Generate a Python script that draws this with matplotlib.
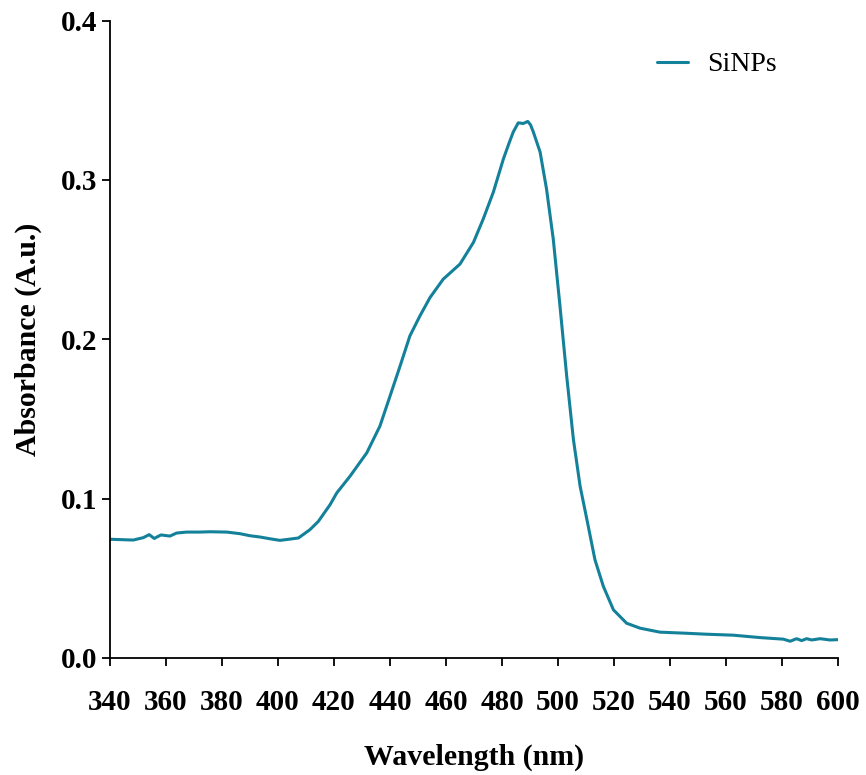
import matplotlib
matplotlib.use("Agg")
import matplotlib.pyplot as plt

# UV-Vis absorption spectrum of silicon nanoparticles
wavelength_nm = [340, 348.3, 351.9, 354, 355.8, 358.2, 361.4, 363.8, 367.4, 372, 375.7,
                 381.7, 386.4, 390, 393.6, 397.1, 400.7, 404.3, 407.3, 411.4, 414.4,
                 418.6, 421, 425.7, 431.7, 436.4, 440, 443.6, 447.1, 450.7, 454.3,
                 459, 465, 469.8, 473.3, 476.9, 480.5, 482.5, 484, 485.8, 487.6, 489.2,
                 490.2, 491.2, 493.6, 495.9, 498.3, 500.7, 503.1, 505.5, 507.9, 510.2, 513.2,
                 516.2, 519.8, 524.5, 529.3, 536.4, 546, 553.1, 562.6, 572.1, 580.5,
                 582.9, 585.2, 587, 588.8, 590.6, 593.6, 597.1, 600]
absorbance = [0.0745, 0.0740, 0.0755, 0.0774, 0.0750, 0.0772, 0.0765, 0.0784, 0.0790, 0.0790, 0.0792,
              0.0790, 0.0780, 0.0767, 0.0759, 0.0748, 0.0738, 0.0746, 0.0753, 0.0805, 0.0857,
              0.0962, 0.1036, 0.1140, 0.1287, 0.1455, 0.1643, 0.1832, 0.2021, 0.2147, 0.2262,
              0.2377, 0.2472, 0.2608, 0.2755, 0.2923, 0.3132, 0.3230, 0.3300, 0.3358, 0.3354, 0.3367,
              0.3345, 0.3300, 0.3175, 0.2943, 0.2629, 0.2209, 0.1769, 0.1371, 0.1077, 0.0879, 0.0616,
              0.0449, 0.0302, 0.0218, 0.0187, 0.0162, 0.0155, 0.0149, 0.0143, 0.0128, 0.0118,
              0.0105, 0.0121, 0.0109, 0.0121, 0.0113, 0.0121, 0.0113, 0.0115]

x_ticks = list(range(340, 601, 20))
y_ticks = [0.0, 0.1, 0.2, 0.3, 0.4]

line_color = "#14819a"
plt.rcParams["font.family"] = ["Liberation Serif", "DejaVu Serif"]

fig = plt.figure(figsize=(8.66, 7.75), dpi=100)
ax = fig.add_axes([0.127, 0.151, 0.8407, 0.8225])

ax.plot(wavelength_nm, absorbance, color=line_color, linewidth=2.2,
        solid_joinstyle="round", solid_capstyle="round", label="SiNPs")

ax.set_xlim(340, 600)
ax.set_ylim(0, 0.4)
ax.set_xticks(x_ticks)
ax.set_yticks(y_ticks)
ax.set_yticklabels([f"{v:.1f}" for v in y_ticks])

for side in ("top", "right"):
    ax.spines[side].set_visible(False)
for side in ("left", "bottom"):
    ax.spines[side].set_linewidth(1.3)

ax.tick_params(axis="both", direction="out", length=6, width=1.3, labelsize=21)
ax.tick_params(axis="x", pad=16)
ax.tick_params(axis="y", pad=3)
for lbl in ax.get_xticklabels() + ax.get_yticklabels():
    lbl.set_fontweight("bold")

ax.set_xlabel("Wavelength (nm)", fontsize=21.5, fontweight="bold", labelpad=20)
ax.set_ylabel("Absorbance (A.u.)", fontsize=21.5, fontweight="bold", labelpad=14)

ax.legend(loc="upper right", bbox_to_anchor=(0.95, 0.99), frameon=False,
          fontsize=20, handlelength=1.1, handletextpad=0.7)

fig.savefig("out.png", dpi=100)
